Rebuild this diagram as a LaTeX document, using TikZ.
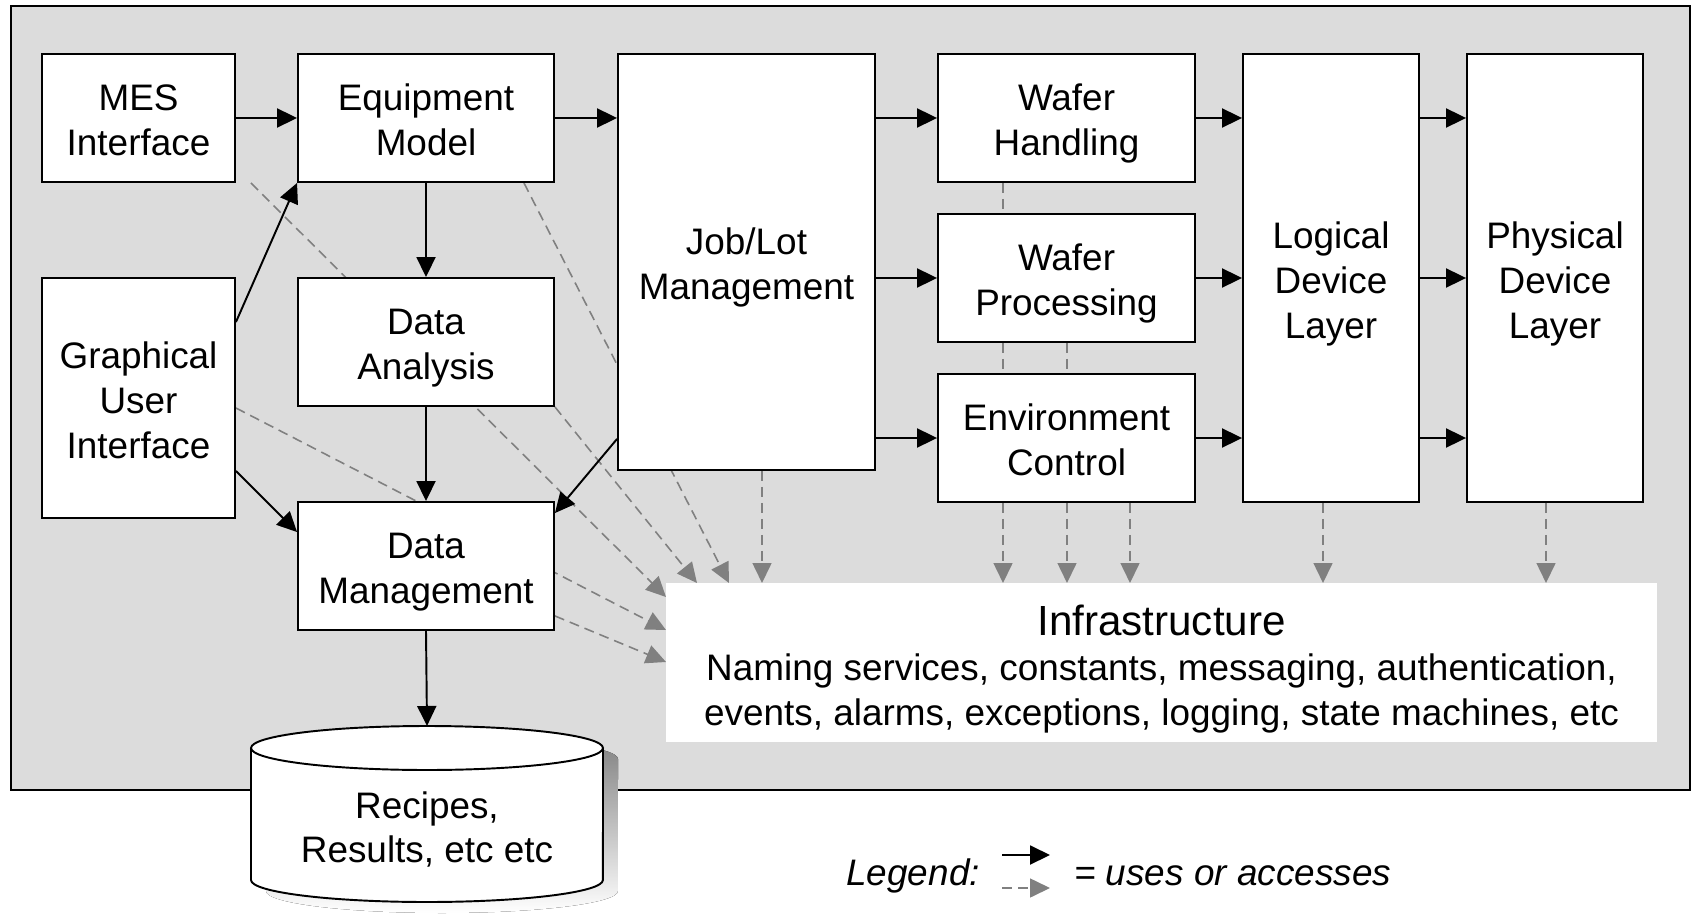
\documentclass[tikz,border=0pt]{standalone}
\usepackage{fontspec}
\setmainfont{Liberation Sans}
\usetikzlibrary{arrows.meta,backgrounds}
\definecolor{panel}{HTML}{DCDCDC}
\definecolor{link}{HTML}{808080}
\definecolor{shade}{HTML}{BEBEBE}

\begin{document}
\begin{tikzpicture}[x=0.02cm, y=-0.02cm,
	>={Triangle[length=0.4cm,width=0.38cm]},
	box/.style={draw, fill=white, line width=1.1pt, align=center, inner sep=0pt,
		font=\fontsize{21}{25.5}\selectfont, text height=43pt, text depth=0pt},
	tall/.style={text height=68.5pt},
	uses/.style={->, line width=1.1pt},
	access/.style={->, link, line width=0.9pt, dash pattern=on 0.2cm off 0.12cm},
	]
	\useasboundingbox (0,0) rectangle (1692,915);
	
	% left column
	\node[box, minimum width=3.86cm, minimum height=2.56cm] (mes) at (138.5,118) {MES\\Interface};
	\node[box, tall, minimum width=3.86cm, minimum height=4.8cm] (gui) at (138.5,398) {Graphical\\User\\Interface};
	\node[box, minimum width=5.12cm, minimum height=2.56cm] (em) at (426,118) {Equipment\\Model};
	\node[box, minimum width=5.12cm, minimum height=2.56cm] (da) at (426,342) {Data\\Analysis};
	\node[box, minimum width=5.12cm, minimum height=2.56cm] (dm) at (426,566) {Data\\Management};
	
	% middle and right
	\node[box, minimum width=5.14cm, minimum height=8.32cm] (job) at (746.5,262) {Job/Lot\\Management};
	\node[box, minimum width=5.14cm, minimum height=2.56cm] (wh) at (1066.5,118) {Wafer\\Handling};
	\node[box, minimum width=5.14cm, minimum height=2.56cm] (wp) at (1066.5,278) {Wafer\\Processing};
	\node[box, minimum width=5.14cm, minimum height=2.56cm] (ec) at (1066.5,438) {Environment\\Control};
	\node[box, tall, minimum width=3.52cm, minimum height=8.96cm] (ld) at (1331,278) {Logical\\Device\\Layer};
	\node[box, tall, minimum width=3.52cm, minimum height=8.96cm] (pd) at (1555,278) {Physical\\Device\\Layer};
	
	\node[box, draw=none, text height=71.5pt, minimum width=19.82cm, minimum height=3.18cm] (infra) at (1161.5,662.5)
		{{\fontsize{24}{25.5}\selectfont Infrastructure}\\
		 Naming services, constants, messaging, authentication,\\
		 events, alarms, exceptions, logging, state machines, etc};
	
	% recipes store
	\fill[shade] (266,759) -- (266,891) arc[start angle=180,end angle=360,x radius=3.52cm,y radius=0.44cm]
		-- (618,759) arc[start angle=0,end angle=180,x radius=3.52cm,y radius=0.44cm] -- cycle;
	\draw[line width=1.1pt, fill=white] (251,748) -- (251,880)
		arc[start angle=180,end angle=360,x radius=3.52cm,y radius=0.44cm] -- (603,748);
	\draw[line width=1.1pt, fill=white] (427,748) ellipse[x radius=3.52cm, y radius=0.44cm];
	\node[box, draw=none, fill=none, text height=41.5pt] (db) at (427,826.5) {Recipes,\\Results, etc etc};
	\coordinate (dbtop) at (427,726);
	
	% solid links
	\draw[uses] (mes.east) -- (em.west);
	\draw[uses] (em.east) -- (em.east -| job.west);
	\draw[uses] (job.east |- wh.west) -- (wh.west);
	\draw[uses] (job.east |- wp.west) -- (wp.west);
	\draw[uses] (job.east |- ec.west) -- (ec.west);
	\draw[uses] (wh.east) -- (wh.east -| ld.west);
	\draw[uses] (wp.east) -- (wp.east -| ld.west);
	\draw[uses] (ec.east) -- (ec.east -| ld.west);
	\draw[uses] (ld.east |- wh.east) -- (pd.west |- wh.east);
	\draw[uses] (ld.east |- wp.east) -- (pd.west |- wp.east);
	\draw[uses] (ld.east |- ec.east) -- (pd.west |- ec.east);
	\draw[uses] (em.south) -- (da.north);
	\draw[uses] (da.south) -- (dm.north);
	\draw[uses] (dm.south) -- (dbtop);
	\draw[uses] ([yshift=-0.9cm]gui.north east) -- (em.south west);
	\draw[uses] ([yshift=0.96cm]gui.south east) -- ([yshift=-0.62cm]dm.north west);
	\draw[uses] ([yshift=0.64cm]job.south west) -- ([yshift=-0.24cm]dm.north east);
	
	% ends on the infrastructure box
	\coordinate (t1) at (697,583);
	\coordinate (t2) at (729,583);
	\coordinate (t3) at (762,583);
	\coordinate (t4) at (1003,583);
	\coordinate (t5) at (1067,583);
	\coordinate (t6) at (1130,583);
	\coordinate (t7) at (1323,583);
	\coordinate (t8) at (1546,583);
	\coordinate (l1) at (666,597);
	\coordinate (l2) at (666,630);
	\coordinate (l3) at (666,662);
	
	\begin{scope}[on background layer]
		\draw[line width=1.1pt, fill=panel] (11,6) rectangle (1690,790);
		\draw[access] ([xshift=0.3cm]mes.south east) -- (l1);
		\draw[access] ([yshift=-0.2cm]gui.east) -- (l2);
		\draw[access] ([yshift=0.3cm]dm.south east) -- (l3);
		\draw[access] (da.south east) -- (t1);
		\draw[access] ([xshift=-0.62cm]em.south east) -- (t2);
		\draw[access] (job.south -| t3) -- (t3);
		\draw[access] (wh.south -| t4) -- (t4);
		\draw[access] (wp.south -| t5) -- (t5);
		\draw[access] (ec.south -| t6) -- (t6);
		\draw[access] (ld.south -| t7) -- (t7);
		\draw[access] (pd.south -| t8) -- (t8);
	\end{scope}
	
	% legend
	\node[anchor=base east, font=\fontsize{21}{25}\selectfont\itshape] (legend) at (986,885) {Legend:};
	\node[anchor=base west, font=\fontsize{21}{25}\selectfont\itshape] (meaning) at (1068,885) {= uses or accesses};
	\coordinate (ka) at (1002,855);
	\coordinate (kb) at (1050,855);
	\coordinate (kc) at (1002,888);
	\coordinate (kd) at (1050,888);
	\draw[uses] (ka) -- (kb);
	\draw[access] (kc) -- (kd);
	
\end{tikzpicture}
\end{document}
